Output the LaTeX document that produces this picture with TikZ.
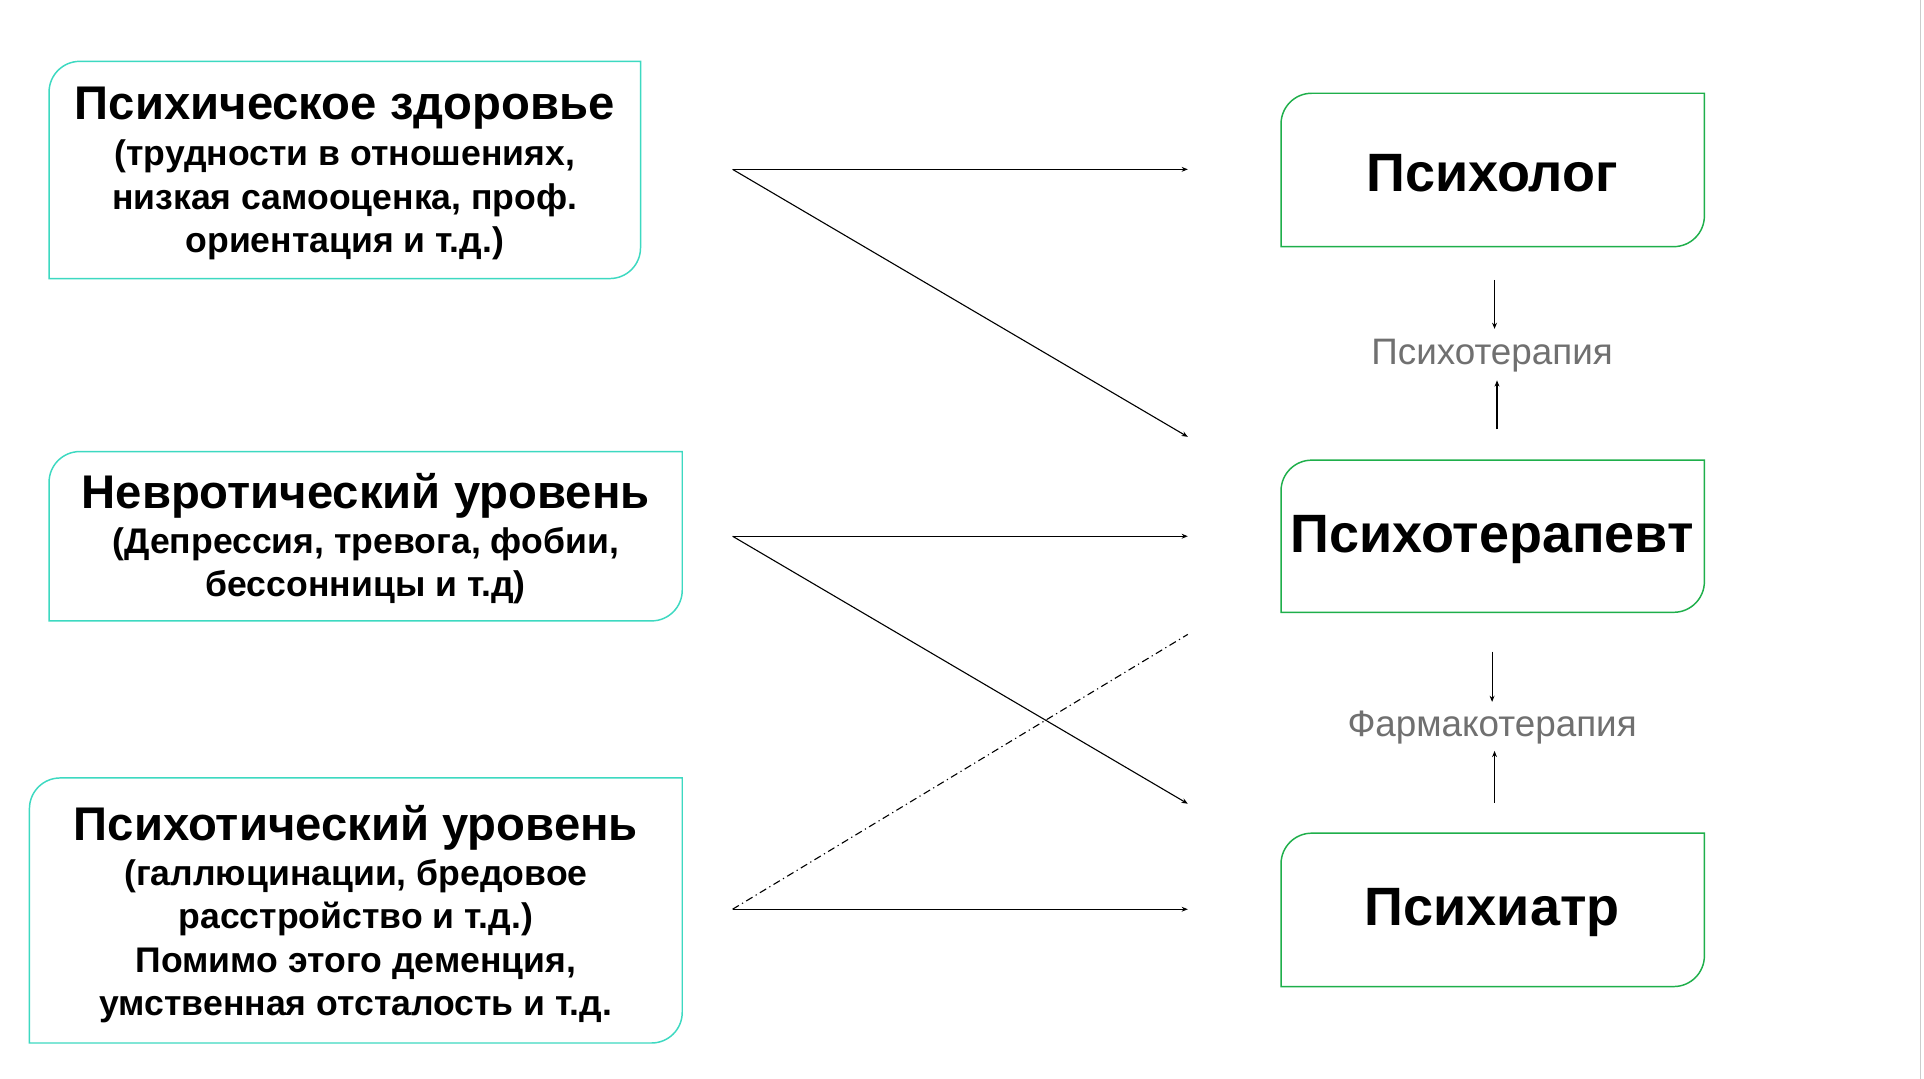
\documentclass[tikz,border=0pt]{standalone}
\usepackage{fontspec}
\setmainfont{Liberation Sans}
\usetikzlibrary{arrows.meta}
\definecolor{cy}{HTML}{3DD9C1}
\definecolor{gr}{HTML}{1FAF4B}
\definecolor{gt}{HTML}{707070}
\tikzset{
 arr/.style={-{Stealth[length=5pt,width=4pt]},line width=0.9pt},
 ttl/.style={font=\fontsize{38.5}{42}\selectfont\bfseries,align=center},
 sub/.style={font=\fontsize{29}{35.5}\selectfont\bfseries,align=center},
 rt/.style={font=\fontsize{44}{48}\selectfont\bfseries},
 gl/.style={font=\fontsize{30}{32}\selectfont,text=gt},
}
\newcommand{\rbox}[5]{\draw[#5,line width=1.2pt] (#1,#4) -- (#1,#2+25) arc[start angle=180,end angle=270,radius=25] -- (#3,#2) -- (#3,#4-25) arc[start angle=0,end angle=90,radius=25] -- cycle;}
\begin{document}
\begin{tikzpicture}[x=1pt,y=-1pt]
\useasboundingbox[fill=white] (0,0) rectangle (1568,879);
\draw[gray!40,line width=1pt] (1565,0) -- (1565,879);
\rbox{40}{50}{522}{227}{cy}
\rbox{40}{368}{556}{506}{cy}
\rbox{24}{634}{556}{850}{cy}
\rbox{1044}{76}{1389}{201}{gr}
\rbox{1044}{375}{1389}{499}{gr}
\rbox{1044}{679}{1389}{804}{gr}
\node[ttl] (t1) at (281,88) {Психическое здоровье};
\node[sub] (s1) at (281,163) {(трудности в отношениях,\\низкая самооценка, проф.\\ориентация и т.д.)};
\node[ttl] (t2) at (298,404) {Невротический уровень};
\node[sub] (s2) at (298,461) {(Депрессия, тревога, фобии,\\бессонницы и т.д)};
\node[ttl] (t3) at (290,675) {Психотический уровень};
\node[sub] (s3) at (290,767) {(галлюцинации, бредовое\\расстройство и т.д.)\\Помимо этого деменция,\\умственная отсталость и т.д.};
\node[rt] (psy) at (1216,141) {Психолог};
\node[rt] (pst) at (1216,440) {Психотерапевт};
\node[rt] (psi) at (1216,744) {Психиатр};
\node[gl] (l1) at (1216,290) {Психотерапия};
\node[gl] (l2) at (1216,593) {Фармакотерапия};
\coordinate (a1) at (597,138); \coordinate (a2) at (597,437); \coordinate (a3) at (597,741);
\coordinate (e1) at (968,138); \coordinate (e2) at (968,356); \coordinate (e3) at (968,437);
\coordinate (e4) at (968,655); \coordinate (e5) at (968,741); \coordinate (e6) at (968,517);
\draw[arr] (a1) -- (e1);
\draw[arr] (a1) -- (e2);
\draw[arr] (a2) -- (e3);
\draw[arr] (a2) -- (e4);
\draw[arr] (a3) -- (e5);
\draw[line width=0.9pt,dash pattern=on 6pt off 3pt on 1pt off 3pt] (a3) -- (e6);
\coordinate (v1) at (1218,228); \coordinate (v2) at (1218,268);
\coordinate (v3) at (1220,350); \coordinate (v4) at (1220,310);
\coordinate (v5) at (1216,531); \coordinate (v6) at (1216,572);
\coordinate (v7) at (1218,654); \coordinate (v8) at (1218,612);
\draw[arr] (v1) -- (v2); \draw[arr] (v3) -- (v4);
\draw[arr] (v5) -- (v6); \draw[arr] (v7) -- (v8);
\end{tikzpicture}
\end{document}
